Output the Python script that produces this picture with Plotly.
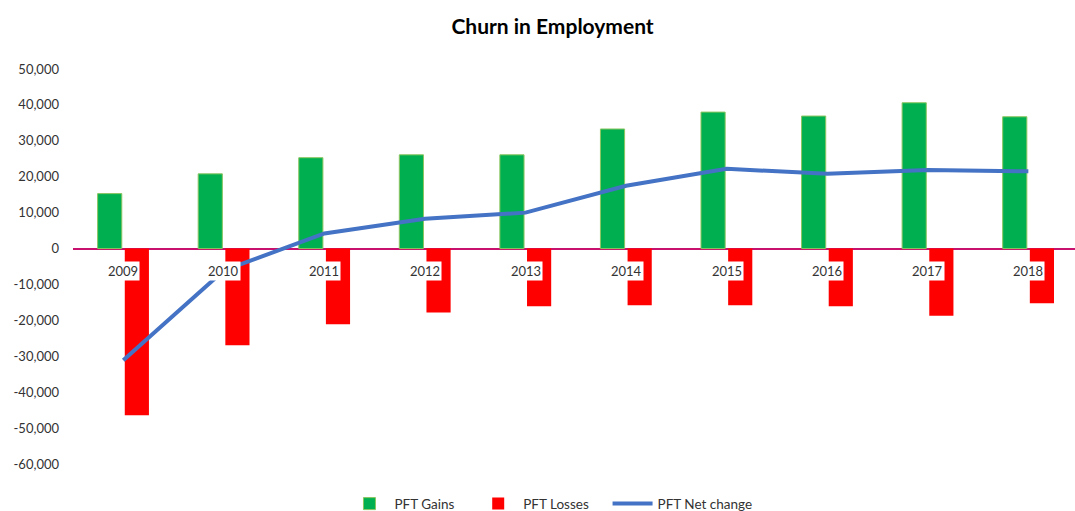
import plotly.graph_objects as go

years = ["2009", "2010", "2011", "2012", "2013", "2014", "2015", "2016", "2017", "2018"]
gains = [15300, 20800, 25300, 26100, 26100, 33300, 38000, 36900, 40600, 36700]
losses = [-46400, -26900, -21100, -17800, -16100, -15800, -15800, -16100, -18700, -15200]
net = [-31100, -6100, 4200, 8300, 10000, 17500, 22200, 20800, 21900, 21500]
ytick_vals = [50000, 40000, 30000, 20000, 10000, 0, -10000, -20000, -30000, -40000, -50000, -60000]
ytick_text = [f"{v:,}" for v in ytick_vals]

FONT = "Lato, 'Open Sans', sans-serif"
PAD = "&nbsp;" * 4

fig = go.Figure()
fig.add_trace(go.Bar(
    x=years, y=gains, name="PFT Gains" + PAD,
    marker=dict(color="#00B050", line=dict(color="#8CC560", width=1)),
))
fig.add_trace(go.Bar(
    x=years, y=losses, name="PFT Losses" + PAD,
    marker=dict(color="#FF0000", line=dict(width=0)),
))
fig.add_trace(go.Scatter(
    x=years, y=net, name="PFT Net change", mode="lines",
    line=dict(color="#4472C4", width=4),
))

for i, yr in enumerate(years):
    fig.add_annotation(
        x=i, y=0, xref="x", yref="y", text=yr, showarrow=False,
        yshift=-22, bgcolor="white", borderpad=1,
        font=dict(family=FONT, size=13, color="#333333"),
    )

fig.update_layout(
    width=1075, height=511,
    margin=dict(l=73, r=0, t=69, b=47),
    paper_bgcolor="white", plot_bgcolor="white",
    title=dict(text="<b>Churn in Employment</b>", x=0.514, xanchor="center",
               y=0.947, yanchor="middle",
               font=dict(family=FONT, size=21, color="#000000")),
    barmode="group", bargap=0.46, bargroupgap=0.11,
    showlegend=True,
    legend=dict(orientation="h", x=0.477, xanchor="center",
                yref="container", y=0.014, yanchor="middle",
                font=dict(family=FONT, size=13.5, color="#333333"),
                traceorder="normal", itemwidth=40),
    font=dict(family=FONT, size=13, color="#333333"),
)
fig.update_xaxes(type="category", showticklabels=False, showgrid=False, showline=False,
                 zeroline=False, range=[-0.5, 9.464])
fig.update_yaxes(range=[-60000, 50000], tickvals=ytick_vals, ticktext=ytick_text,
                 showgrid=False, showline=False, zeroline=True,
                 zerolinecolor="#C8106E", zerolinewidth=1.5,
                 ticklabelstandoff=13,
                 tickfont=dict(family=FONT, size=13, color="#333333"))

fig.write_html(
    "out.html",
    config={"displayModeBar": False},
    post_script="document.body.style.margin='0';document.body.style.overflow='hidden';",
)
